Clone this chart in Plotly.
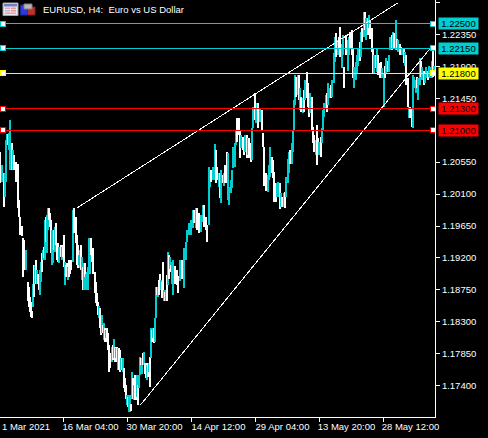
import plotly.graph_objects as go

bar_x = [
 0,2,4,5,6,7,8,9,10,12,
 13,14,16,18,19,20,22,23,24,25,
 26,28,29,30,31,32,33,34,35,36,
 37,38,39,40,41,42,43,44,45,46,
 47,48,49,50,51,52,53,54,55,56,
 57,58,59,60,61,62,63,64,65,66,
 67,68,69,70,71,73,74,76,77,78,
 79,80,81,82,83,84,85,86,87,88,
 89,90,91,92,93,95,96,97,98,99,
 100,101,102,103,104,105,106,107,108,109,
 110,111,112,113,114,115,116,117,118,119,
 120,121,122,123,124,125,126,127,128,129,
 130,131,132,133,134,135,136,137,138,139,
 140,141,142,143,144,145,146,147,148,149,
 150,151,152,153,154,155,156,157,158,159,
 160,161,162,163,164,165,166,167,168,169,
 170,171,172,173,175,177,178,180,182,184,
 186,187,189,191,193,194,196,197,199,201,
 203,204,206,207,209,210,211,213,215,216,
 217,219,220,221,223,224,225,227,228,229,
 231,232,233,235,236,237,239,240,241,243,
 244,245,247,248,249,251,252,253,255,256,
 257,258,260,262,263,264,266,268,269,270,
 272,273,274,276,277,278,280,281,282,284,
 285,286,288,289,290,292,293,294,295,296,
 298,299,300,301,303,304,305,307,308,309,
 310,312,313,314,316,317,318,319,321,322,
 323,324,326,327,328,330,331,332,334,335,
 336,338,339,340,342,343,344,346,348,349,
 350,352,353,354,356,357,358,360,361,362,
 364,365,366,368,369,370,372,373,374,376,
 377,378,380,381,382,384,385,386,388,389,
 390,392,393,394,396,397,398,400,401,402,
 404,405,406,408,409,410,412,413,414,416,
 417,418,420,421,422,424,425,426,428,429,
 430,432,433,434,
]
bar_high = [
 1.2069,1.2051,1.2039,1.2039,1.2086,1.2094,1.2094,1.2096,1.2114,1.2082,
 1.2072,1.2065,1.2055,1.2053,1.2001,1.1977,1.1965,1.1948,1.1945,1.1931,
 1.1931,1.1886,1.1879,1.1865,1.1858,1.1846,1.1884,1.1910,1.1910,1.1917,
 1.1903,1.1898,1.1893,1.1903,1.1914,1.1927,1.1931,1.1935,1.1973,1.1977,
 1.1980,1.1990,1.1990,1.1983,1.1973,1.1959,1.1955,1.1959,1.1963,1.1969,
 1.1938,1.1941,1.1935,1.1934,1.1938,1.1935,1.1938,1.1952,1.1914,1.1910,
 1.1913,1.1907,1.1917,1.1917,1.1917,1.1987,1.1990,1.1977,1.1952,1.1938,
 1.1924,1.1931,1.1938,1.1921,1.1907,1.1913,1.1913,1.1898,1.1900,1.1907,
 1.1948,1.1948,1.1948,1.1934,1.1934,1.1900,1.1886,1.1870,1.1858,1.1853,
 1.1849,1.1839,1.1839,1.1825,1.1829,1.1822,1.1818,1.1821,1.1814,1.1797,
 1.1786,1.1786,1.1794,1.1797,1.1806,1.1794,1.1793,1.1794,1.1793,1.1793,
 1.1790,1.1779,1.1779,1.1779,1.1765,1.1751,1.1741,1.1727,1.1724,1.1727,
 1.1727,1.1715,1.1759,1.1751,1.1741,1.1755,1.1737,1.1755,1.1741,1.1755,
 1.1780,1.1779,1.1779,1.1786,1.1787,1.1772,1.1772,1.1769,1.1772,1.1772,
 1.1780,1.1821,1.1818,1.1822,1.1822,1.1835,1.1879,1.1879,1.1879,1.1889,
 1.1898,1.1889,1.1886,1.1914,1.1875,1.1872,1.1875,1.1896,1.1928,1.1924,
 1.1921,1.1910,1.1914,1.1917,1.1908,1.1903,1.1894,1.1917,1.1917,1.1934,
 1.1942,1.1959,1.1969,1.1973,1.1987,1.1987,1.1991,1.1990,1.1984,1.1980,
 1.1994,1.1994,1.1977,1.1966,1.2048,1.2039,1.2044,1.2048,1.2080,1.2072,
 1.2048,1.2039,1.2039,1.2044,1.2037,1.2039,1.2051,1.2069,1.2068,1.2020,
 1.2030,1.2044,1.2076,1.2082,1.2100,1.2117,1.2117,1.2100,1.2093,1.2090,
 1.2086,1.2093,1.2093,1.2089,1.2089,1.2082,1.2103,1.2132,1.2152,1.2131,
 1.2138,1.2138,1.2131,1.2128,1.2096,1.2076,1.2039,1.2037,1.2051,1.2076,
 1.2062,1.2058,1.2041,1.2025,1.2025,1.2027,1.2025,1.2011,1.2006,1.2011,
 1.2013,1.2034,1.2060,1.2069,1.2072,1.2082,1.2100,1.2142,1.2177,1.2175,
 1.2177,1.2177,1.2160,1.2146,1.2145,1.2156,1.2170,1.2182,1.2166,1.2149,
 1.2152,1.2146,1.2104,1.2093,1.2086,1.2107,1.2089,1.2083,1.2090,1.2103,
 1.2128,1.2138,1.2149,1.2152,1.2166,1.2160,1.2163,1.2170,1.2208,1.2231,
 1.2237,1.2227,1.2231,1.2245,1.2222,1.2234,1.2189,1.2234,1.2227,1.2231,
 1.2238,1.2241,1.2215,1.2189,1.2196,1.2206,1.2215,1.2224,1.2238,1.2244,
 1.2266,1.2266,1.2258,1.2258,1.2262,1.2255,1.2244,1.2215,1.2206,1.2206,
 1.2215,1.2206,1.2194,1.2196,1.2187,1.2180,1.2191,1.2201,1.2198,1.2206,
 1.2231,1.2234,1.2238,1.2237,1.2255,1.2229,1.2227,1.2222,1.2217,1.2215,
 1.2215,1.2210,1.2206,1.2173,1.2132,1.2132,1.2131,1.2177,1.2175,1.2170,
 1.2175,1.2173,1.2201,1.2198,1.2189,1.2184,1.2180,1.2189,1.2184,1.2191,
 1.2189,1.2198,1.2215,1.2191,
]
bar_low = [
 1.2025,1.2027,1.1992,1.2006,1.2027,1.2079,1.2079,1.2072,1.2044,1.2044,
 1.2044,1.2044,1.2027,1.1990,1.1977,1.1952,1.1951,1.1893,1.1913,1.1903,
 1.1903,1.1860,1.1851,1.1844,1.1837,1.1835,1.1851,1.1865,1.1884,1.1884,
 1.1884,1.1884,1.1875,1.1868,1.1886,1.1900,1.1917,1.1920,1.1917,1.1942,
 1.1927,1.1959,1.1973,1.1963,1.1927,1.1910,1.1913,1.1931,1.1928,1.1938,
 1.1917,1.1914,1.1913,1.1921,1.1921,1.1917,1.1921,1.1907,1.1882,1.1893,
 1.1893,1.1889,1.1893,1.1898,1.1903,1.1914,1.1955,1.1941,1.1910,1.1906,
 1.1910,1.1906,1.1903,1.1889,1.1875,1.1875,1.1893,1.1875,1.1875,1.1875,
 1.1898,1.1898,1.1924,1.1914,1.1898,1.1870,1.1856,1.1853,1.1839,1.1835,
 1.1821,1.1811,1.1815,1.1814,1.1804,1.1801,1.1807,1.1801,1.1790,1.1759,
 1.1765,1.1773,1.1773,1.1776,1.1779,1.1773,1.1779,1.1773,1.1762,1.1762,
 1.1759,1.1762,1.1762,1.1759,1.1737,1.1731,1.1722,1.1713,1.1710,1.1703,
 1.1703,1.1705,1.1722,1.1722,1.1720,1.1720,1.1720,1.1724,1.1713,1.1737,
 1.1755,1.1769,1.1757,1.1769,1.1769,1.1757,1.1751,1.1748,1.1752,1.1759,
 1.1738,1.1779,1.1801,1.1807,1.1800,1.1801,1.1835,1.1868,1.1865,1.1868,
 1.1877,1.1875,1.1863,1.1868,1.1860,1.1860,1.1860,1.1860,1.1882,1.1891,
 1.1905,1.1900,1.1884,1.1868,1.1884,1.1882,1.1870,1.1887,1.1891,1.1877,
 1.1917,1.1942,1.1952,1.1952,1.1962,1.1969,1.1962,1.1959,1.1955,1.1956,
 1.1970,1.1963,1.1959,1.1942,1.1966,1.2020,1.2027,1.2030,1.2030,1.2025,
 1.2030,1.2020,1.2004,1.1998,1.2025,1.2022,1.2025,1.2025,1.2001,1.1994,
 1.2011,1.2018,1.2046,1.2048,1.2079,1.2083,1.2093,1.2061,1.2075,1.2072,
 1.2065,1.2069,1.2061,1.2065,1.2061,1.2055,1.2058,1.2103,1.2114,1.2110,
 1.2111,1.2103,1.2111,1.2100,1.2076,1.2022,1.2015,1.2013,1.2030,1.2034,
 1.2039,1.2032,1.1999,1.1999,1.2006,1.2006,1.1989,1.1992,1.1992,1.1992,
 1.1990,1.2006,1.2025,1.2039,1.2053,1.2053,1.2069,1.2100,1.2135,1.2146,
 1.2149,1.2142,1.2128,1.2125,1.2124,1.2125,1.2142,1.2145,1.2132,1.2118,
 1.2124,1.2100,1.2082,1.2069,1.2065,1.2051,1.2068,1.2065,1.2062,1.2082,
 1.2100,1.2118,1.2131,1.2125,1.2135,1.2145,1.2145,1.2146,1.2166,1.2196,
 1.2203,1.2206,1.2215,1.2203,1.2187,1.2206,1.2159,1.2206,1.2184,1.2206,
 1.2215,1.2206,1.2173,1.2160,1.2170,1.2180,1.2191,1.2198,1.2203,1.2224,
 1.2231,1.2241,1.2227,1.2234,1.2244,1.2229,1.2210,1.2180,1.2180,1.2187,
 1.2182,1.2177,1.2173,1.2180,1.2173,1.2132,1.2173,1.2180,1.2182,1.2182,
 1.2213,1.2213,1.2215,1.2215,1.2213,1.2213,1.2210,1.2206,1.2208,1.2206,
 1.2194,1.2191,1.2163,1.2132,1.2117,1.2117,1.2104,1.2103,1.2159,1.2153,
 1.2159,1.2142,1.2163,1.2175,1.2170,1.2163,1.2166,1.2173,1.2170,1.2175,
 1.2173,1.2173,1.2175,1.2177,
]
bar_dir = (
 "wcwcccwccw" "cwwwwwwwww" "cwwwwwcwcw" "cwwccwcwcw"
 "ccwwwccwcw" "wwccwcwwcw" "wcwwwcwwww" "ccwcwcwccc"
 "ccwwwwwwwc" "wwcwcwcwww" "wwcwcwcwcw" "wcwcwwwcwc"
 "cwcwcwwcwc" "cwcwcwwcwc" "wcwcwccwcw" "wcwwcwcwcw"
 "cwccwwwcwc" "cccccwcwwc" "cwwwccwccw" "wcwcwcwwcc"
 "cccccwwwcw" "wcwcwwccwc" "cwcwwwwccc" "wwwwccwcwc"
 "wcccwccccw" "cwcwcwcwww" "cwwwcwwcwc" "cccwccwccc"
 "wcwwccwwcc" "wwwccccwcw" "cwcwcwwwcw" "cwwwccwcwc"
 "cwcwcwcwwc" "wcwwcwwccc" "wccwcwccwc" "ccwc"
)
assert len(bar_high) == len(bar_x) and len(bar_low) == len(bar_x) and len(bar_dir) == len(bar_x)

channel_x_upper = [76, 397]
channel_y_upper = [1.1990, 1.2279]
channel_x_lower = [140, 429]
channel_y_lower = [1.1713, 1.2214]

level_values = [1.22500, 1.22150, 1.21800, 1.21300, 1.21000]
level_colors = ["#00CED1", "#00CED1", "#FFFF00", "#FF0000", "#FF0000"]
level_labels = ["1.22500", "1.22150", "1.21800", "1.21300", "1.21000"]

y_tick_values = [1.228, 1.2235, 1.219, 1.2145, 1.2055, 1.201, 1.1965, 1.192, 1.1875, 1.183, 1.1785, 1.174]
y_tick_labels = ["1.22800", "1.22350", "1.21900", "1.21450", "1.20550", "1.20100",
                 "1.19650", "1.19200", "1.18750", "1.18300", "1.17850", "1.17400"]
x_tick_values = [63, 127, 191, 255, 319, 383]
x_tick_labels = ["16 Mar 04:00", "30 Mar 20:00", "14 Apr 12:00", "29 Apr 04:00", "13 May 20:00", "28 May 12:00"]

W, H = 488, 438
L_PLOT, T_PLOT, R_PLOT, B_PLOT = 0, 0, 435, 417
FONT = "Liberation Sans"
CYAN = "#00CED1"

fig = go.Figure()
fig.add_trace(go.Bar(
    x=bar_x,
    base=bar_low,
    y=[h - l for h, l in zip(bar_high, bar_low)],
    width=1.2, marker=dict(color=[CYAN if d == "c" else "#FFFFFF" for d in bar_dir], line_width=0),
    showlegend=False, hoverinfo="skip",
))

for xs, ys in ((channel_x_upper, channel_y_upper), (channel_x_lower, channel_y_lower)):
    fig.add_trace(go.Scatter(x=xs, y=ys, mode="lines", line=dict(color="#FFFFFF", width=1),
                             showlegend=False, hoverinfo="skip"))

shapes, annos = [], []
plot_w = R_PLOT - L_PLOT
for v, c, t in zip(level_values, level_colors, level_labels):
    fig.add_trace(go.Scatter(x=[-0.5, 434.5], y=[v, v], mode="lines", line=dict(color=c, width=1),
                             showlegend=False, hoverinfo="skip"))
    annos.append(dict(xref="paper", yref="y", x=1 + 2.5 / plot_w, y=v, xanchor="left", yanchor="middle",
                      text=t, showarrow=False, bgcolor=c, width=39, height=11, borderpad=0,
                      font=dict(family=FONT, size=9.5, color="#000000"), align="center"))

# level handles: little white squares with a coloured edge at both ends of every line
for px in (2.5, 432.5):
    fig.add_trace(go.Scatter(
        x=[px] * len(level_values), y=level_values, mode="markers",
        marker=dict(symbol="square", size=5, color="#FFFFFF", line=dict(color=level_colors, width=1)),
        showlegend=False, hoverinfo="skip"))

# the window's own header text and two small icons (pixel boxes turned into paper fractions)
def xp(px):
    return (px - L_PLOT) / plot_w
def yp(py):
    return 1 - (py - T_PLOT) / (B_PLOT - T_PLOT)
def box(x0, y0, x1, y1, fill, line=None):
    shapes.append(dict(type="rect", xref="paper", yref="paper",
                       x0=xp(x0), x1=xp(x1), y0=yp(y0), y1=yp(y1), fillcolor=fill,
                       line=dict(color=line or fill, width=1 if line else 0)))

box(3, 3, 18, 15.5, "#E8E8F0", "#A0A0A0")
box(4, 4, 17, 6.5, "#7080C0")
box(5, 7.5, 10, 9, "#F0A0A0")
box(11, 7.5, 16, 9, "#F09090")
box(5, 10, 10, 11.5, "#B0B8E0")
box(11, 10, 16, 11.5, "#F09090")
box(5, 12.5, 16, 14, "#F0A0A0")
box(20.5, 5, 27.5, 15, "#2A3AE0", "#202890")
box(27.5, 7, 35, 15, "#C03030", "#802020")
box(24, 4, 32, 9, "#B8B8B8", "#808080")

annos.append(dict(xref="paper", yref="paper", x=xp(41), y=yp(9.5), xanchor="left", yanchor="middle",
                  text="EURUSD, H4:  Euro vs US Dollar", showarrow=False,
                  font=dict(family=FONT, size=9.5, color="#FFFFFF")))
annos.append(dict(xref="paper", yref="paper", x=xp(-0.5), y=yp(426), xanchor="left", yanchor="middle",
                  text="1 Mar 2021", showarrow=False,
                  font=dict(family=FONT, size=9.5, color="#FFFFFF")))

fig.update_layout(
    width=W, height=H, autosize=False,
    margin=dict(l=L_PLOT, r=W - R_PLOT, t=T_PLOT, b=H - B_PLOT, autoexpand=False),
    paper_bgcolor="#000000", plot_bgcolor="#000000",
    barmode="overlay", showlegend=False,
    shapes=shapes, annotations=annos,
    xaxis=dict(range=[-0.5, 434.5], showgrid=False, zeroline=False, showline=True, linecolor="#FFFFFF",
               linewidth=1, ticks="outside", ticklen=4, tickcolor="#FFFFFF", tickwidth=1,
               tickvals=x_tick_values, ticktext=x_tick_labels, ticklabelshift=27, ticklabelstandoff=-3,
               tickfont=dict(family=FONT, size=9.5, color="#FFFFFF"), automargin=False),
    yaxis=dict(range=[1.16960, 1.22833], side="right", showgrid=False, zeroline=False, showline=True,
               linecolor="#FFFFFF", linewidth=1, ticks="outside", ticklen=4, tickcolor="#FFFFFF", tickwidth=1,
               tickvals=y_tick_values, ticktext=y_tick_labels,
               tickfont=dict(family=FONT, size=9.5, color="#FFFFFF"), automargin=False),
)

fig.write_html("out.html", config=dict(displayModeBar=False),
               post_script=("document.body.style.margin='0';document.body.style.background='#000';"
                            "document.querySelectorAll('.scatterlayer path, .bars path')"
                            ".forEach(function(p){p.style.shapeRendering='crispEdges';});"))
